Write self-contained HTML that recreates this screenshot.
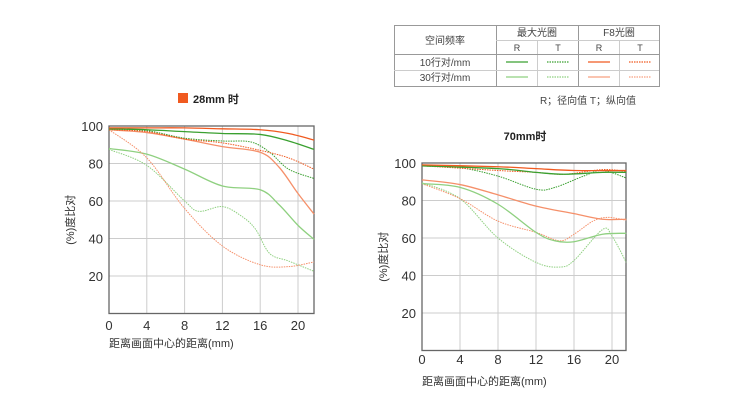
<!DOCTYPE html>
<html><head><meta charset="utf-8"><style>
body{margin:0;background:#fff;width:745px;height:404px;overflow:hidden}
svg{font-family:"Liberation Sans","Noto Sans CJK SC",sans-serif}
</style></head><body>
<svg id="s" width="745" height="404" xmlns="http://www.w3.org/2000/svg">
<g stroke="#999" stroke-width="1" fill="none">
<rect x="394.5" y="25.5" width="265" height="61"/>
<line x1="496.5" y1="25" x2="496.5" y2="86"/>
<line x1="578.5" y1="25" x2="578.5" y2="86"/>
<line x1="537.5" y1="40" x2="537.5" y2="86" stroke="#ccc"/>
<line x1="619.5" y1="40" x2="619.5" y2="86" stroke="#ccc"/>
<line x1="496" y1="40.5" x2="659" y2="40.5" stroke="#ccc"/>
<line x1="394" y1="54.5" x2="659" y2="54.5"/>
<line x1="394" y1="70.5" x2="659" y2="70.5" stroke="#ccc"/>
</g>
<g font-size="10" fill="#444" text-anchor="middle">
<text x="445" y="44">空间频率</text>
<text x="537" y="36">最大光圈</text>
<text x="619" y="36">F8光圈</text>
<text x="517" y="51" font-size="9">R</text><text x="558" y="51" font-size="9">T</text>
<text x="599" y="51" font-size="9">R</text><text x="640" y="51" font-size="9">T</text>
<text x="445" y="66">10行对/mm</text>
<text x="445" y="81">30行对/mm</text>
<text x="588" y="104" font-size="10">R；径向值   T；纵向值</text>
</g>
<g stroke-width="1.3">
<line x1="506" y1="62" x2="528" y2="62" stroke="#3aa030"/>
<line x1="547" y1="62" x2="569" y2="62" stroke="#3aa030" stroke-dasharray="1.5 1"/>
<line x1="588" y1="62" x2="610" y2="62" stroke="#f05a20"/>
<line x1="629" y1="62" x2="651" y2="62" stroke="#f05a20" stroke-dasharray="1.5 1"/>
<line x1="506" y1="77" x2="528" y2="77" stroke="#8fd080"/>
<line x1="547" y1="77" x2="569" y2="77" stroke="#8fd080" stroke-dasharray="1.5 1"/>
<line x1="588" y1="77" x2="610" y2="77" stroke="#f8a080"/>
<line x1="629" y1="77" x2="651" y2="77" stroke="#f8a080" stroke-dasharray="1.5 1"/>
</g>
<rect x="178" y="93" width="10" height="10" fill="#f05a20"/>
<text x="193" y="103" font-size="11" font-weight="bold" fill="#222">28mm 时</text>
<text x="525" y="140" font-size="11" font-weight="bold" fill="#222" text-anchor="middle">70mm时</text>
<g id="c1"></g><g id="c2"></g>
</svg>
<script>
var NS="http://www.w3.org/2000/svg";
function el(p,t,a,txt){var e=document.createElementNS(NS,t);for(var k in a)e.setAttribute(k,a[k]);if(txt!==undefined)e.textContent=String(txt);p.appendChild(e);return e;}
function chart(g,L,R,B,T,sx,labY,titY,series){
 var X=function(d){return L+sx*d},Y=function(v){return B-(B-T)*v/100};
 [20,40,60,80,100].forEach(function(v){el(g,'line',{x1:L,x2:R,y1:Y(v),y2:Y(v),stroke:'#ccc','stroke-width':1});
  el(g,'text',{x:L-6,y:Y(v)+5,'font-size':13,fill:'#333','text-anchor':'end'},v);});
 [0,4,8,12,16,20].forEach(function(d){el(g,'line',{x1:X(d),x2:X(d),y1:T,y2:B,stroke:'#ccc','stroke-width':1});
  el(g,'text',{x:X(d),y:labY,'font-size':13,fill:'#333','text-anchor':'middle'},d);});
 el(g,'rect',{x:L,y:T,width:R-L,height:B-T,fill:'none',stroke:'#666','stroke-width':1.3});
 el(g,'text',{x:L,y:titY,'font-size':11,fill:'#333'},'距离画面中心的距离(mm)');
 el(g,'text',{x:0,y:0,'font-size':11,fill:'#333','text-anchor':'middle',transform:'translate('+(L-35)+','+((T+B)/2)+') rotate(-90)'},'(%)度比对');
 series.forEach(function(s){
  var p=s[2].map(function(q){return [X(q[0]),Y(q[1])]});
  var d='M'+p[0][0]+','+p[0][1];
  for(var i=0;i<p.length-1;i++){var p0=p[i-1]||p[i],p1=p[i],p2=p[i+1],p3=p[i+2]||p2;
   d+=' C'+(p1[0]+(p2[0]-p0[0])/6)+','+(p1[1]+(p2[1]-p0[1])/6)+' '+(p2[0]-(p3[0]-p1[0])/6)+','+(p2[1]-(p3[1]-p1[1])/6)+' '+p2[0]+','+p2[1];}
  var a={d:d,fill:'none',stroke:s[0],'stroke-width':s[1]?1:1.3};
  if(s[1])a['stroke-dasharray']='1.5 1';
  el(g,'path',a);});
}
var G='#3aa030',LG='#8fd080',O='#f05a20',LO='#f5906a';
chart(document.getElementById('c1'),109,314,313.5,126,9.45,330,347,[
 [LG,0,[[0,88],[4,85],[8,77],[12,68],[16,66],[18,58],[20,47],[21.7,39.5]]],
 [LG,1,[[0,87.5],[4,79],[8,60],[9.5,54.5],[12,57],[14,52],[15.5,45],[17,32],[19,28],[21.7,22.5]]],
 [LO,1,[[0,98],[4,83],[8,56],[12,36],[16,26],[19,25],[21.7,27.5]]],
 [LO,0,[[0,98],[4,96.5],[8,93],[12,89],[16,86],[18,78],[20,64],[21.7,53]]],
 [G,1,[[0,98],[4,97.5],[8,93.5],[12,92],[15,91.5],[17,86],[19,77],[21.7,72]]],
 [O,1,[[0,98],[4,97],[8,93],[12,91],[16,87],[19,83],[21.7,77]]],
 [G,0,[[0,98.5],[4,98],[8,97],[12,96],[16,95.5],[19,92],[21.7,87.5]]],
 [O,0,[[0,99],[4,99],[8,99],[12,98.5],[16,98],[19,96],[21.7,92.5]]]
]);
chart(document.getElementById('c2'),422,626,350.5,163,9.5,364,385,[
 [LG,1,[[0,89.5],[4,81],[8,60],[12,47],[14.5,44.5],[16,48],[19,64.5],[20,61],[21.5,47]]],
 [LO,1,[[0,89],[4,81],[8,69],[12,63],[14.5,58.5],[16,62],[18,69],[19.5,71],[21.5,69.5]]],
 [LG,0,[[0,89],[4,87],[8,78],[12,63],[14,58.5],[16,58],[19,62],[21.5,62.5]]],
 [LO,0,[[0,91],[4,88.5],[8,83],[12,77],[16,73],[19,70],[21.5,70]]],
 [G,1,[[0,98.5],[4,97.5],[8,93],[12,86],[14,87],[17,93],[19,96],[21.5,92]]],
 [O,1,[[0,98.5],[8,96],[12,95],[15,94],[19,96.5],[21.5,95.5]]],
 [G,0,[[0,98.5],[8,97],[12,95],[15,94],[19,95],[21.5,95]]],
 [O,0,[[0,99],[8,98],[12,97],[16,96],[21.5,96]]]
]);
</script>
</body></html>
